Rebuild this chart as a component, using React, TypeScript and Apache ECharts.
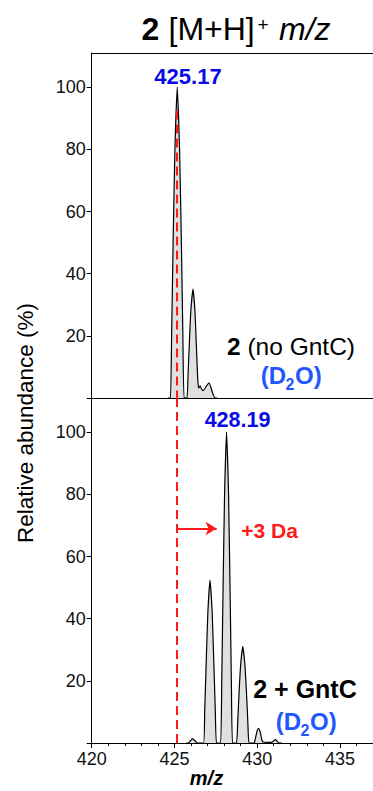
import React, { useEffect, useRef } from "react";
import * as echarts from "echarts";

const F = "'Liberation Sans', Arial, Helvetica, sans-serif";

// m/z axis
const xMin = 420;
const xMax = 437;
const xMajorTicks = [420, 425, 430, 435];
const xMinorTicks = [421, 422, 423, 424, 426, 427, 428, 429, 431, 432, 433, 434, 436, 437];

// relative abundance axis
const yMax = 111;
const yMajorTicks = [0, 20, 40, 60, 80, 100];
const yLabelTicks = [20, 40, 60, 80, 100];
const yMinorTicks = [10, 30, 50, 70, 90, 110];

// top spectrum: 2 (no GntC), D2O  [m/z, relative abundance %]
const topSpectrum: [number, number][] = [
  [424.6, 0], [424.76, 0], [424.83, 20], [424.92, 50], [425.03, 80], [425.17, 100],
  [425.31, 80], [425.42, 50], [425.51, 20], [425.58, 0],
  [425.76, 0], [425.82, 7], [425.9, 17.5], [425.99, 28], [426.12, 35], [426.24, 28],
  [426.32, 17.5], [426.4, 7], [426.46, 3.2], [426.55, 3.9], [426.65, 2.8], [426.75, 2.4],
  [426.95, 4], [427.1, 4.9], [427.28, 2], [427.45, 0], [427.6, 0],
];

// bottom spectrum: 2 + GntC, D2O
const bottomSpectrum: [number, number][] = [
  [425.7, 0], [425.85, 0], [425.98, 0.8], [426.1, 1.4], [426.22, 0.8], [426.4, 0],
  [426.76, 0], [426.83, 10.5], [426.92, 26], [427.02, 42], [427.15, 52.4], [427.28, 42], [427.38, 26], [427.47, 10.5], [427.54, 0],
  [427.79, 0], [427.86, 20], [427.94, 50], [428.03, 80], [428.15, 100], [428.27, 80], [428.36, 50], [428.44, 20], [428.51, 0],
  [428.75, 0], [428.82, 6.2], [428.9, 15.5], [429.0, 25], [429.13, 31], [429.26, 25], [429.36, 15.5], [429.44, 6.2], [429.51, 0],
  [429.82, 0], [429.87, 0.9], [429.93, 2.35], [429.99, 3.8], [430.08, 4.7], [430.17, 3.8], [430.23, 2.35], [430.29, 0.9], [430.36, 0.3],
  [430.6, 0.2], [430.85, 0.2], [430.98, 0.6], [431.1, 1.1], [431.22, 0.5], [431.35, 0], [431.5, 0],
];

// reference line (monoisotopic peak of unlabelled 2) and +3 Da shift arrow
const refMz = 425.17;
const refLineTopStart = 92.5;
const arrowFrom: [number, number] = [425.22, 69];
const arrowTo: [number, number] = [427.55, 69];

const gridLeft = 91.7;

function yMainAxis(gridIndex: number) {
  return {
    type: "value",
    gridIndex,
    min: 0,
    max: yMax,
    interval: 10,
    axisLine: { show: true, lineStyle: { color: "#000", width: 1 } },
    axisTick: { show: true, inside: false, length: 5, lineStyle: { color: "#000" }, customValues: yMajorTicks },
    axisLabel: {
      show: true,
      customValues: yLabelTicks,
      fontSize: 18,
      fontFamily: F,
      color: "#111",
      margin: 6,
      formatter: (v: number) => (v > 0 && v % 20 === 0 ? String(v) : ""),
    },
    splitLine: { show: false },
  };
}

function yMinorAxis(gridIndex: number) {
  return {
    type: "value",
    gridIndex,
    min: 0,
    max: yMax,
    interval: 10,
    axisLine: { show: false },
    axisTick: { show: true, inside: false, length: 3, lineStyle: { color: "#000" }, customValues: yMinorTicks },
    axisLabel: { show: false },
    splitLine: { show: false },
  };
}

export default function App() {
  const ref = useRef<HTMLDivElement>(null);

  useEffect(() => {
    if (!ref.current) return;
    const chart = echarts.init(ref.current, undefined, { renderer: "svg" });

    const txt = (
      text: string,
      x: number,
      y: number,
      size: number,
      color: string,
      weight: string,
      align: string,
      extra: any = {}
    ) => ({
      type: "text",
      x,
      y,
      silent: true,
      style: {
        text,
        fill: color,
        font: `${extra.italic ? "italic " : ""}${weight} ${size}px ${F}`,
        align,
        verticalAlign: "middle",
        textAlign: align,
        textVerticalAlign: "middle",
      },
    });

    const blue = "#2157ff";
    const red = "#ff1a1a";

    const option: any = {
      animation: false,
      grid: [
        { left: gridLeft, right: 0, top: 53, height: 345, show: false },
        { left: gridLeft, right: 0, top: 398, height: 345, show: false },
      ],
      xAxis: [
        {
          type: "value",
          gridIndex: 0,
          min: xMin,
          max: xMax,
          position: "bottom",
          axisLine: { show: true, onZero: false, lineStyle: { color: "#000", width: 1 } },
          axisTick: { show: false },
          axisLabel: { show: false },
          splitLine: { show: false },
        },
        {
          type: "value",
          gridIndex: 1,
          min: xMin,
          max: xMax,
          interval: 1,
          position: "bottom",
          axisLine: { show: true, onZero: false, lineStyle: { color: "#000", width: 1 } },
          axisTick: { show: true, inside: false, length: 5, lineStyle: { color: "#000" }, customValues: xMajorTicks },
          axisLabel: {
            show: true,
            customValues: xMajorTicks,
            fontSize: 18,
            fontFamily: F,
            color: "#111",
            margin: 7,
          },
          splitLine: { show: false },
        },
        {
          type: "value",
          gridIndex: 0,
          min: xMin,
          max: xMax,
          position: "top",
          axisLine: { show: true, onZero: false, lineStyle: { color: "#000", width: 1 } },
          axisTick: { show: false },
          axisLabel: { show: false },
          splitLine: { show: false },
        },
        {
          type: "value",
          gridIndex: 1,
          min: xMin,
          max: xMax,
          interval: 1,
          position: "bottom",
          axisLine: { show: false, onZero: false },
          axisTick: { show: true, inside: false, length: 3, lineStyle: { color: "#000" }, customValues: xMinorTicks },
          axisLabel: { show: false },
          splitLine: { show: false },
        },
      ],
      yAxis: [yMainAxis(0), yMainAxis(1), yMinorAxis(0), yMinorAxis(1)],
      series: [
        {
          type: "line",
          xAxisIndex: 0,
          yAxisIndex: 0,
          data: topSpectrum,
          symbol: "none",
          smooth: 0.15,
          lineStyle: { color: "#000", width: 1.2 },
          areaStyle: { color: "#e0e0e0", opacity: 1, origin: 0 },
          markLine: {
            silent: true,
            symbol: "none",
            label: { show: false },
            lineStyle: { color: red, width: 2, type: [9, 5] },
            data: [[{ coord: [refMz, refLineTopStart] }, { coord: [refMz, 0] }]],
          },
        },
        {
          type: "line",
          xAxisIndex: 1,
          yAxisIndex: 1,
          data: bottomSpectrum,
          symbol: "none",
          smooth: 0.15,
          lineStyle: { color: "#000", width: 1.2 },
          areaStyle: { color: "#e0e0e0", opacity: 1, origin: 0 },
          markLine: {
            silent: true,
            symbol: "none",
            label: { show: false },
            lineStyle: { color: red, width: 2, type: [9, 5] },
            data: [
              [{ coord: [refMz, yMax] }, { coord: [refMz, 0] }],
              [
                { coord: arrowFrom, symbol: "none", lineStyle: { type: "solid", width: 1.8, color: red } },
                { coord: arrowTo, symbol: "arrow", symbolSize: [10, 11] },
              ],
            ],
          },
        },
      ],
      graphic: [
        // title
        txt("2", 141.5, 29, 32, "#000", "bold", "left"),
        txt("[M+H]", 168.5, 29, 32, "#000", "normal", "left"),
        txt("+", 257.5, 24, 19, "#000", "normal", "left"),
        txt("m/z", 279, 29, 32, "#000", "normal", "left", { italic: true }),
        // peak labels
        txt("425.17", 188, 76, 22, "#0a0ae6", "bold", "center"),
        txt("428.19", 237.5, 420, 21.5, "#0a0ae6", "bold", "center"),
        // annotations top
        {
          type: "text",
          x: 291,
          y: 346,
          silent: true,
          style: {
            text: "{b|2} (no GntC)",
            fill: "#000",
            font: `normal 24.5px ${F}`,
            align: "center",
            verticalAlign: "middle",
            textAlign: "center",
            textVerticalAlign: "middle",
            rich: {
              b: { fontWeight: "bold", fontSize: 24.5, fontFamily: F, fill: "#000" },
            },
          },
        },
        txt("(D", 286, 375, 24, blue, "bold", "right"),
        txt("2", 285.5, 384.5, 16, blue, "bold", "left"),
        txt("O)", 295, 375, 24, blue, "bold", "left"),
        // annotations bottom
        txt("+3 Da", 269.5, 530, 21, red, "bold", "center"),
        txt("2 + GntC", 305, 689, 25, "#000", "bold", "center"),
        txt("(D", 301, 721, 24, blue, "bold", "right"),
        txt("2", 300.5, 730.5, 16, blue, "bold", "left"),
        txt("O)", 310, 721, 24, blue, "bold", "left"),
        // axis names
        txt("m/z", 206.5, 778, 20, "#000", "bold", "center", { italic: true }),
        {
          type: "text",
          x: 25,
          y: 423,
          rotation: Math.PI / 2,
          silent: true,
          style: {
            text: "Relative abundance (%)",
            fill: "#000",
            font: `normal 22.5px ${F}`,
            align: "center",
            verticalAlign: "middle",
            textAlign: "center",
            textVerticalAlign: "middle",
          },
        },
      ],
    };

    chart.setOption(option);
    return () => chart.dispose();
  }, []);

  return (
    <div
      ref={ref}
      style={{ position: "absolute", left: 0, top: 0, width: 373, height: 791 }}
    />
  );
}
